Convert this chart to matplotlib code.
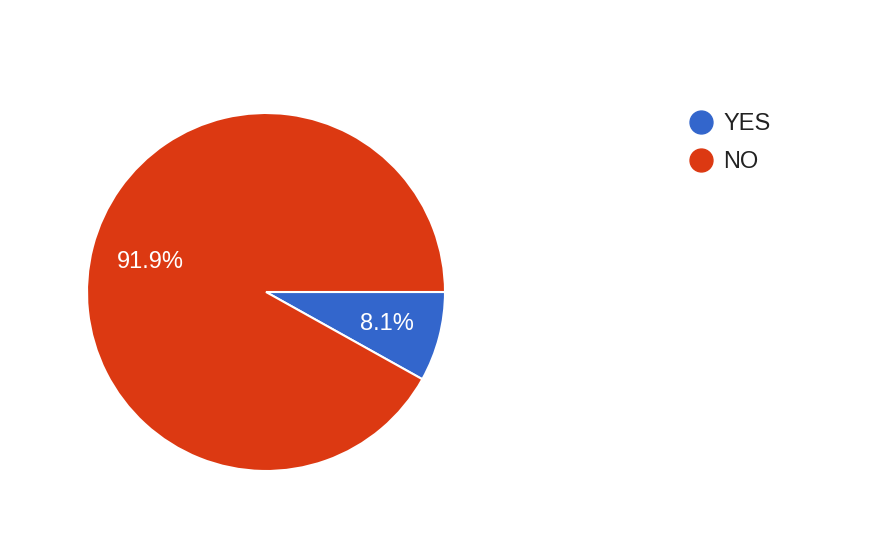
import matplotlib.pyplot as plt
from matplotlib.lines import Line2D

labels = ['YES', 'NO']
values = [8.1, 91.9]
colors = ['#3366CC', '#DC3912']

plt.rcParams['font.family'] = ['Liberation Sans', 'DejaVu Sans']

fig = plt.figure(figsize=(8.94, 5.54), dpi=100)
ax = fig.add_axes([87 / 894, 83 / 554, 358 / 894, 358 / 554])

wedges, texts, autotexts = ax.pie(
    values, colors=colors, startangle=0, counterclock=False,
    autopct='%1.1f%%', pctdistance=0.7,
    wedgeprops=dict(edgecolor='white', linewidth=1.5),
    textprops=dict(color='white', fontsize=17))
# the big slice's label sits a little closer to the centre
x, y = autotexts[1].get_position()
autotexts[1].set_position((x * 0.95, y * 0.95))
ax.set_xlim(-1, 1)
ax.set_ylim(-1, 1)
ax.set_aspect('equal')

handles = [Line2D([], [], marker='o', linestyle='', markersize=16.5,
                  markerfacecolor=c, markeredgecolor=c) for c in colors]
fig.legend(handles, labels, loc='upper left', bbox_to_anchor=(689 / 894, 1 - 113 / 554),
           frameon=False, fontsize=17, labelcolor='#222222',
           handlelength=1.0, handletextpad=0.45, labelspacing=0.68,
           borderpad=0, borderaxespad=0)

fig.savefig('out.png', dpi=100)
